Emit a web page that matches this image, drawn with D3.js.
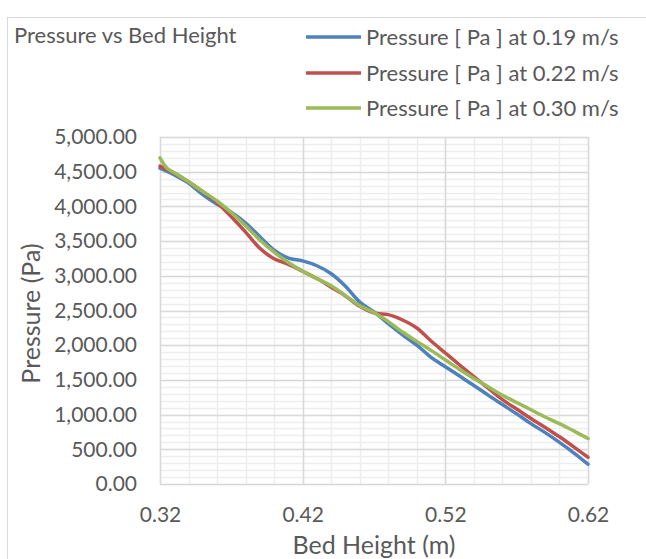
<!DOCTYPE html>
<html>
<head>
<meta charset="utf-8">
<script src="https://cdn.jsdelivr.net/npm/d3@7"></script>
<style>
  html, body { margin: 0; padding: 0; background: #fff; }
  svg { display: block; font-family: Lato, "Open Sans", sans-serif; }
</style>
</head>
<body>
<svg id="chart" width="646" height="559"></svg>
<script>
const chartTitle = "Pressure vs Bed Height";
const xTitle = "Bed Height (m)";
const yTitle = "Pressure (Pa)";
const seriesNames = ["Pressure [ Pa ] at 0.19 m/s", "Pressure [ Pa ] at 0.22 m/s", "Pressure [ Pa ] at 0.30 m/s"];
const seriesColors = ["#4F81BD", "#C0504D", "#9BBB59"];

const bedHeight = [0.32, 0.33, 0.34, 0.35, 0.36, 0.37, 0.38, 0.39, 0.40, 0.41, 0.42, 0.43, 0.44, 0.45, 0.46, 0.47,
                   0.48, 0.49, 0.50, 0.51, 0.52, 0.53, 0.54, 0.55, 0.56, 0.57, 0.58, 0.59, 0.60, 0.61, 0.62];
const pressure019 = [4550, 4455, 4337, 4170, 4030, 3915, 3760, 3564, 3370, 3255, 3215, 3145, 3030, 2850, 2620, 2480,
                     2310, 2150, 2000, 1825, 1690, 1555, 1420, 1280, 1145, 1010, 870, 740, 600, 450, 285];
const pressure022 = [4580, 4480, 4356, 4212, 4055, 3850, 3630, 3396, 3245, 3165, 3065, 2960, 2835, 2710, 2560, 2465,
                     2440, 2363, 2248, 2060, 1888, 1715, 1546, 1380, 1215, 1080, 945, 815, 680, 535, 385];
const bedHeight030 = [0.32, 0.325, 0.33, 0.34, 0.35, 0.36, 0.37, 0.38, 0.39, 0.40, 0.41, 0.42, 0.43, 0.44, 0.45, 0.46, 0.47,
                      0.48, 0.49, 0.50, 0.51, 0.52, 0.53, 0.54, 0.55, 0.56, 0.57, 0.58, 0.59, 0.60, 0.61, 0.62];
const pressure030 = [4700, 4550, 4485, 4355, 4215, 4078, 3910, 3720, 3516, 3340, 3192, 3065, 2960, 2855, 2715, 2570, 2470,
                     2340, 2190, 2055, 1925, 1787, 1650, 1520, 1400, 1280, 1175, 1070, 965, 870, 765, 655];

const xTicks = [0.32, 0.42, 0.52, 0.62];
const yTicks = [0, 500, 1000, 1500, 2000, 2500, 3000, 3500, 4000, 4500, 5000];

const series = [
  { name: seriesNames[0], color: seriesColors[0], xs: bedHeight, ys: pressure019 },
  { name: seriesNames[1], color: seriesColors[1], xs: bedHeight, ys: pressure022 },
  { name: seriesNames[2], color: seriesColors[2], xs: bedHeight030, ys: pressure030 }
];

const svg = d3.select("#chart");
const textColor = "#595959";

// outer chart border
svg.append("rect").attr("x", 7.5).attr("y", 17.5).attr("width", 700).attr("height", 700)
  .attr("fill", "#fff").attr("stroke", "#d9d9d9").attr("stroke-width", 1);

const L = 160, R = 588, T = 137, B = 484;
const x = d3.scaleLinear().domain([0.32, 0.62]).range([L, R]);
const y = d3.scaleLinear().domain([0, 5000]).range([B, T]);

// minor grid
const g = svg.append("g");
g.selectAll(".minorx").data(d3.range(0, 16).map(i => 0.32 + i * 0.02)).enter().append("line")
  .attr("x1", d => Math.round(x(d)) + 0.5).attr("x2", d => Math.round(x(d)) + 0.5)
  .attr("y1", T).attr("y2", B).attr("stroke", "#ededed").attr("stroke-width", 1.5);
g.selectAll(".minory").data(d3.range(0, 51).map(i => i * 100)).enter().append("line")
  .attr("y1", d => Math.round(y(d)) + 0.5).attr("y2", d => Math.round(y(d)) + 0.5)
  .attr("x1", L).attr("x2", R).attr("stroke", "#ededed").attr("stroke-width", 1.5);
// major grid
g.selectAll(".majorx").data(xTicks).enter().append("line")
  .attr("x1", d => Math.round(x(d)) + 0.5).attr("x2", d => Math.round(x(d)) + 0.5)
  .attr("y1", T).attr("y2", B).attr("stroke", "#d9d9d9").attr("stroke-width", 1.5);
g.selectAll(".majory").data(yTicks).enter().append("line")
  .attr("y1", d => Math.round(y(d)) + 0.5).attr("y2", d => Math.round(y(d)) + 0.5)
  .attr("x1", L).attr("x2", R).attr("stroke", "#d9d9d9").attr("stroke-width", 1.5);

// axes (labels only)
const yAxis = d3.axisLeft(y).tickValues(yTicks).tickFormat(d3.format(",.2f")).tickSize(0).tickPadding(23);
const ya = svg.append("g").attr("transform", `translate(${L},0)`).call(yAxis);
ya.select(".domain").remove();
ya.selectAll("text").attr("fill", textColor).style("font-size", "21px").style("font-family", "Lato, sans-serif");

const xAxis = d3.axisBottom(x).tickValues(xTicks).tickFormat(d3.format(".2f")).tickSize(0).tickPadding(23);
const xa = svg.append("g").attr("transform", `translate(0,${B})`).call(xAxis);
xa.select(".domain").remove();
xa.selectAll("text").attr("fill", textColor).style("font-size", "21px").style("font-family", "Lato, sans-serif");

// axis titles
svg.append("text").attr("x", (L + R) / 2).attr("y", 554).attr("text-anchor", "middle")
  .attr("fill", textColor).style("font-size", "25px").text(xTitle);
svg.append("text").attr("transform", `translate(40,${(T + B) / 2 + 3}) rotate(-90)`).attr("text-anchor", "middle")
  .attr("fill", textColor).style("font-size", "25px").text(yTitle);

// lines
const line = d3.line().curve(d3.curveCatmullRom.alpha(0.5));
series.forEach(s => {
  const pts = s.xs.map((v, i) => [x(v), y(s.ys[i])]);
  svg.append("path").attr("d", line(pts)).attr("fill", "none")
    .attr("stroke", s.color).attr("stroke-width", 3.5).attr("stroke-linejoin", "round").attr("stroke-linecap", "round");
});

// title
svg.append("text").attr("x", 14).attr("y", 43).attr("fill", textColor)
  .style("font-size", "22px").text(chartTitle);

// legend
const legendY = [37, 73, 108];
series.forEach((s, i) => {
  svg.append("line").attr("x1", 306).attr("x2", 361).attr("y1", legendY[i]).attr("y2", legendY[i])
    .attr("stroke", s.color).attr("stroke-width", 3.5);
  svg.append("text").attr("x", 366).attr("y", legendY[i]).attr("dy", "0.35em").attr("fill", textColor)
    .style("font-size", "22px").text(s.name);
});
</script>
</body>
</html>
